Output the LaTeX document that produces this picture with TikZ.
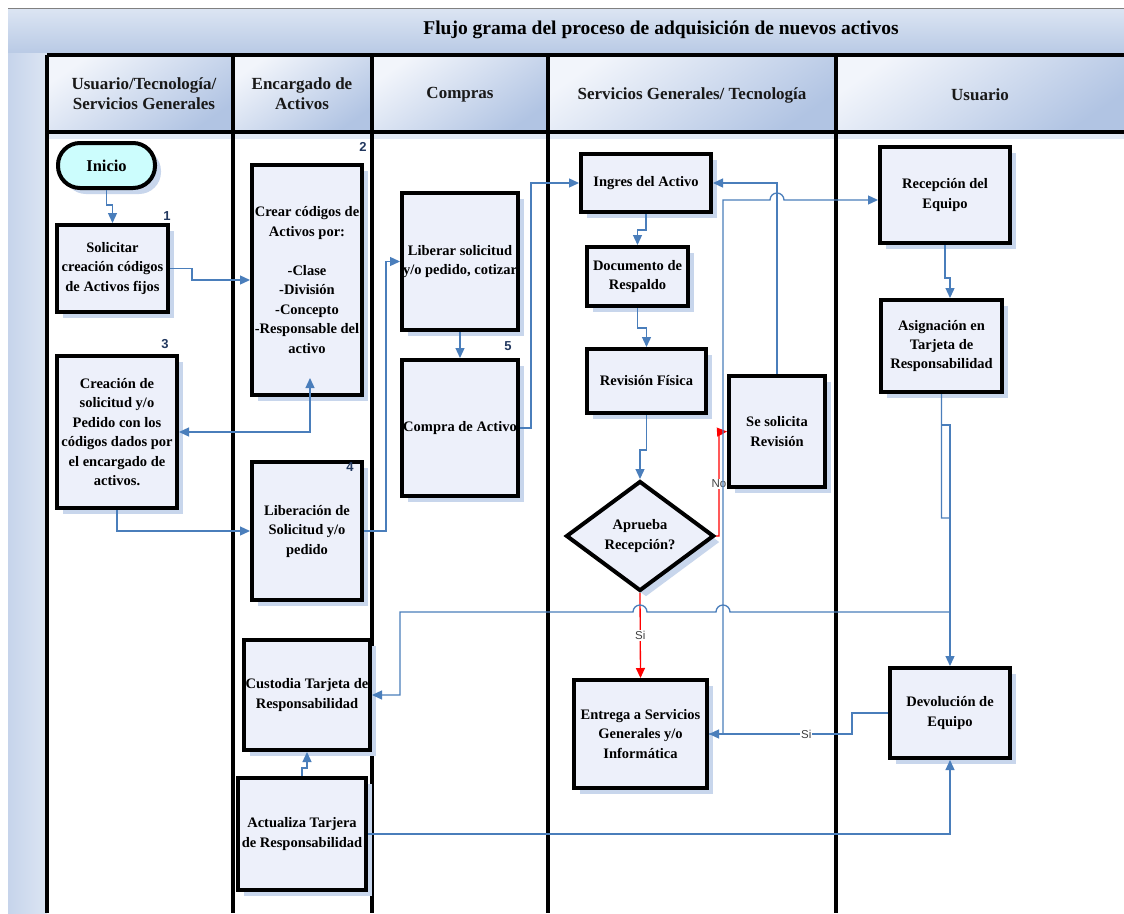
\documentclass[tikz,border=0pt]{standalone}
\usepackage{fontspec}
\setmainfont{Liberation Serif}
\newfontfamily\labelsans{Liberation Sans}
\usetikzlibrary{shapes.geometric,shadows,arrows.meta,calc}

\definecolor{flowblue}{HTML}{4A7EBB}
\definecolor{boxfill}{HTML}{EDF0FA}
\definecolor{shadowblue}{HTML}{C8D6EC}
\definecolor{bandtop}{HTML}{DCE5F3}
\definecolor{bandbot}{HTML}{B9CAE5}
\definecolor{hdrlight}{HTML}{F2F5FB}
\definecolor{hdrdark}{HTML}{B1C4E3}
\definecolor{numblue}{HTML}{22385F}
\definecolor{startcyan}{HTML}{CCFDFD}
\definecolor{stripblue}{HTML}{C6D4EB}
\definecolor{underhdr}{HTML}{E3EAF5}

\newcommand{\boxfont}{\bfseries\fontsize{14.5}{19.5}\selectfont}
\newcommand{\hdrfont}{\bfseries\fontsize{17}{20}\selectfont}

\tikzset{
  stepbox/.style={draw=black, line width=4pt, fill=boxfill, align=center,
    inner sep=0pt, font=\boxfont,
    drop shadow={shadow xshift=6pt, shadow yshift=-6pt, fill=shadowblue, opacity=1}},
  lanerule/.style={line width=4pt, black},
  hdrcell/.style={top color=hdrlight, bottom color=hdrdark, shading angle=35},
  hdrtext/.style={align=center, font=\hdrfont, text=black!90},
  stepnum/.style={font=\labelsans\bfseries\fontsize{13}{14}\selectfont, text=numblue, inner sep=0pt},
  flow/.style={draw=flowblue, line width=1.3pt, -{Triangle[length=10pt,width=9pt]}},
  flowboth/.style={draw=flowblue, line width=1.3pt, {Triangle[length=10pt,width=9pt]}-{Triangle[length=10pt,width=9pt]}},
  redflow/.style={draw=red, line width=1.3pt, -{Triangle[length=10pt,width=9pt]}},
  lbl/.style={font=\labelsans\fontsize{11.5}{12}\selectfont, text=black!75, fill=white, inner sep=1pt}
}

\begin{document}
\begin{tikzpicture}[x=1pt,y=-1pt]
  % page
  \fill[white] (0,0) rectangle (1124,913);
  \useasboundingbox (0,0) rectangle (1124,913);

  % title band and left strip
  \shade[top color=bandtop, bottom color=bandbot] (8,8) rectangle (1124,53);
  \draw[gray, line width=0.8pt] (8,8) -- (1124,8);
  \shade[left color=stripblue, right color=bandtop] (8,53) rectangle (47,913);
  \node[font=\bfseries\fontsize{19.5}{22}\selectfont] (title) at (661,30)
    {Flujo grama del proceso de adquisición de nuevos activos};

  % lane header cells
  \shade[hdrcell] (47,55) rectangle (233,132);
  \shade[hdrcell] (233,55) rectangle (372,132);
  \shade[hdrcell] (372,55) rectangle (548,132);
  \shade[hdrcell] (548,55) rectangle (836,132);
  \shade[hdrcell] (836,55) rectangle (1124,132);
  \fill[underhdr] (47,132) rectangle (1124,139);

  % header text
  \node[hdrtext] (h1) at (144,94) {Usuario/Tecnología/\\Servicios Generales};
  \node[hdrtext] (h2) at (302,94) {Encargado de\\Activos};
  \node[hdrtext] (h3) at (460,95) {Compras};
  \node[hdrtext] (h4) at (692,95) {Servicios Generales/ Tecnología};
  \node[hdrtext] (h5) at (980,95) {Usuario};

  % lane rules
  \draw[lanerule] (47,55) -- (1124,55);
  \draw[lanerule] (47,132) -- (1124,132);
  \foreach \lx in {47,233,372,548,836}
    \draw[lanerule] (\lx,55) -- (\lx,913);

  % process steps
  \node[stepbox, rounded corners=22pt, fill=startcyan, minimum width=97pt, minimum height=45pt,
        font=\bfseries\fontsize{16.5}{18}\selectfont] (ini) at (106.5,165.5) {Inicio};
  \node[stepbox, minimum width=111pt, minimum height=87pt] (b1) at (112.5,268.5)
    {Solicitar\\creación códigos\\de Activos fijos};
  \node[stepbox, minimum width=110pt, minimum height=230pt] (b2) at (307,280)
    {Crear códigos de\\Activos por:\\[19.5pt]-Clase\\-División\\-Concepto\\-Responsable del\\activo};
  \node[stepbox, minimum width=120pt, minimum height=152pt] (b3) at (117,432)
    {Creación de\\solicitud y/o\\Pedido con los\\códigos dados por\\el encargado de\\activos.};
  \node[stepbox, minimum width=110pt, minimum height=138pt] (b4) at (307,531)
    {Liberación de\\Solicitud y/o\\pedido};
  \node[stepbox, minimum width=126pt, minimum height=110pt] (cus) at (307,695)
    {Custodia Tarjeta de\\Responsabilidad};
  \node[stepbox, minimum width=128pt, minimum height=112pt] (act) at (302,834)
    {Actualiza Tarjera\\de Responsabilidad};
  \node[stepbox, minimum width=116pt, minimum height=137pt] (lib) at (460,261.5)
    {Liberar solicitud\\y/o pedido, cotizar};
  \node[stepbox, minimum width=116pt, minimum height=136pt] (comp) at (460,428)
    {Compra de Activo};
  \node[stepbox, minimum width=130pt, minimum height=58pt] (ing) at (646,183)
    {Ingres del Activo};
  \node[stepbox, minimum width=101pt, minimum height=59pt] (doc) at (637.5,276.5)
    {Documento de\\Respaldo};
  \node[stepbox, minimum width=119pt, minimum height=64pt] (rev) at (646.5,381)
    {Revisión Física};
  \node[stepbox, minimum width=96pt, minimum height=111pt] (sol) at (777,431.5)
    {Se solicita\\Revisión};
  \node[stepbox, diamond, shape aspect=1.35, minimum width=148pt, minimum height=110pt] (dia) at (640,536)
    {Aprueba\\Recepción?};
  \node[stepbox, minimum width=133pt, minimum height=108pt] (ent) at (640.5,734)
    {Entrega a Servicios\\Generales y/o\\Informática};
  \node[stepbox, minimum width=130pt, minimum height=96pt] (rec) at (945,195)
    {Recepción del\\Equipo};
  \node[stepbox, minimum width=121pt, minimum height=92pt] (asi) at (941.5,346)
    {Asignación en\\Tarjeta de\\Responsabilidad};
  \node[stepbox, minimum width=120pt, minimum height=90pt] (dev) at (950,713)
    {Devolución de\\Equipo};

  % step numbers
  \node[stepnum] (n1) at (167,216) {1};
  \node[stepnum] (n2) at (363,147) {2};
  \node[stepnum] (n3) at (165,344) {3};
  \node[stepnum] (n4) at (350,467) {4};
  \node[stepnum] (n5) at (508,346) {5};

  % connectors
  \coordinate (b2in) at ($(b2.south)+(3,-19)$);
  \draw[flow] (ini.south) -- (106.5,205) -- (112.5,205) -- (b1.north);
  \draw[flow] (b1.east) -- (192,268.5) -- (192,280) -- (b2.west);
  \draw[flowboth] (b2in) -- (310,432) -- (b3.east);
  \draw[flow] (b3.south) -- (117,531) -- (b4.west);
  \draw[flow] (b4.east) -- (386,531) -- (386,261.5) -- (lib.west);
  \draw[flow] (lib.south) -- (comp.north);
  \draw[flow] (comp.east) -- (531,428) -- (531,183) -- (ing.west);
  \draw[flow] (ing.south) -- (646,230) -- (637.5,230) -- (doc.north);
  \draw[flow] (doc.south) -- (637.5,328) -- (646.5,328) -- (rev.north);
  \draw[flow] (rev.south) -- (646.5,450) -- (640,450) -- (dia.north);
  \draw[redflow] (dia.east) -- (719,536) -- node[lbl] (lno) {No} (719,432) -- (sol.west);
  \draw[flow] (sol.north) -- (777,183) -- (ing.east);
  \draw[redflow] (dia.south) -- node[lbl] (lsi1) {Si} (ent.north);
  \draw[flow] (ent.east) -- (723,734) -- (723,200) -- (770,200)
    arc[start angle=180, end angle=0, radius=7pt] -- ($(rec.west)+(0,5)$);
  \draw[flow] (rec.south) -- (945,278) -- (950,278) -- (asi.north -| 950,0);
  \draw[flow] (asi.south) -- (941.5,425) -- (950,425) -- (dev.north);
  \draw[flow] (asi.south) -- (941.5,518) -- (950,518) -- (950,612) -- (730,612)
    arc[start angle=0, end angle=180, radius=7pt] -- (647,612)
    arc[start angle=0, end angle=180, radius=7pt] -- (400,612) -- (400,695) -- (cus.east);
  \draw[flow] (dev.west) -- (852,713) -- (852,734) -- node[lbl, pos=0.32] (lsi2) {Si} (ent.east);
  \draw[flow] (act.north) -- (302,768) -- (307,768) -- (cus.south);
  \draw[flow] (act.east) -- (950,834) -- (dev.south);
\end{tikzpicture}
\end{document}
